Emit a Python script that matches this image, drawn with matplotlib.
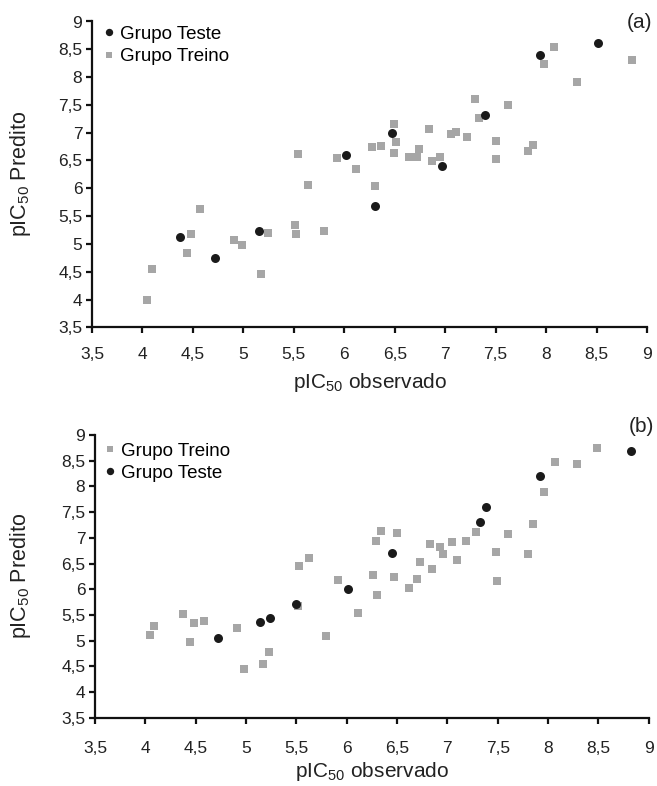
import matplotlib
matplotlib.use("Agg")
import matplotlib.pyplot as plt
from matplotlib.ticker import FuncFormatter
from matplotlib.lines import Line2D

plt.rcParams['font.family'] = ['Liberation Sans', 'DejaVu Sans']
plt.rcParams['mathtext.fontset'] = 'custom'
plt.rcParams['mathtext.rm'] = 'Liberation Sans'

# ---------------- Panel (a) data ----------------
a_test_obs = [4.37, 4.72, 5.15, 6.02, 6.30, 6.47, 6.97, 7.39, 7.94, 8.51]
a_test_pred = [5.13, 4.75, 5.23, 6.60, 5.69, 7.00, 6.41, 7.31, 8.40, 8.61]

a_train_obs = [4.05, 4.09, 4.44, 4.48, 4.57, 4.91, 4.99, 5.17, 5.24, 5.51,
               5.52, 5.54, 5.64, 5.80, 5.93, 6.12, 6.27, 6.30, 6.36, 6.49,
               6.49, 6.51, 6.64, 6.72, 6.74, 6.84, 6.87, 6.95, 7.06, 7.11,
               7.22, 7.30, 7.34, 7.50, 7.50, 7.62, 7.82, 7.87, 7.98, 8.08,
               8.31, 8.85]
a_train_pred = [3.99, 4.55, 4.84, 5.18, 5.62, 5.07, 4.98, 4.45, 5.20, 5.34,
                5.18, 6.62, 6.06, 5.24, 6.55, 6.34, 6.75, 6.04, 6.76, 7.16,
                6.63, 6.84, 6.57, 6.57, 6.70, 7.07, 6.49, 6.57, 6.98, 7.02,
                6.93, 7.60, 7.26, 6.85, 6.52, 7.50, 6.67, 6.78, 8.24, 8.55,
                7.92, 8.30]

# ---------------- Panel (b) data ----------------
b_test_obs = [4.72, 5.14, 5.24, 5.50, 6.01, 6.45, 7.32, 7.38, 7.92, 8.82]
b_test_pred = [5.06, 5.36, 5.43, 5.72, 6.01, 6.71, 7.31, 7.60, 8.21, 8.68]

b_train_obs = [4.05, 4.09, 4.37, 4.44, 4.48, 4.58, 4.91, 4.98, 5.17, 5.23,
               5.52, 5.53, 5.63, 5.79, 5.91, 6.11, 6.26, 6.29, 6.30, 6.34,
               6.47, 6.50, 6.62, 6.70, 6.73, 6.83, 6.85, 6.93, 6.96, 7.05,
               7.10, 7.19, 7.28, 7.48, 7.49, 7.60, 7.80, 7.85, 7.96, 8.07,
               8.29, 8.49]
b_train_pred = [5.10, 5.28, 5.51, 4.98, 5.34, 5.39, 5.24, 4.45, 4.54, 4.78,
                5.68, 6.46, 6.60, 5.08, 6.18, 5.53, 6.28, 6.94, 5.88, 7.13,
                6.24, 7.09, 6.03, 6.19, 6.53, 6.88, 6.39, 6.82, 6.68, 6.92,
                6.56, 6.94, 7.12, 6.73, 6.16, 7.07, 6.69, 7.26, 7.90, 8.48,
                8.43, 8.75]

tick_values = [3.5, 4, 4.5, 5, 5.5, 6, 6.5, 7, 7.5, 8, 8.5, 9]

GRAY = '#a6a6a6'
BLACK = '#1a1a1a'

W, H = 657, 786
fig = plt.figure(figsize=(W / 100, H / 100), dpi=100)


def fmt(v, pos=None):
    if abs(v - round(v)) < 1e-9:
        return str(int(round(v)))
    return ('%.1f' % v).replace('.', ',')


def style_axes(ax, left_px, width_px, xpad, xlabelpad):
    ax.set_xlim(tick_values[0], tick_values[-1])
    ax.set_ylim(tick_values[0], tick_values[-1])
    ax.set_xticks(tick_values)
    ax.set_yticks(tick_values)
    ax.xaxis.set_major_formatter(FuncFormatter(fmt))
    ax.yaxis.set_major_formatter(FuncFormatter(fmt))
    for s in ['top', 'right']:
        ax.spines[s].set_visible(False)
    for s in ['left', 'bottom']:
        ax.spines[s].set_linewidth(1.6)
        ax.spines[s].set_color('#111111')
    ax.tick_params(direction='out', length=4, width=1.6, labelsize=12.5,
                   colors='#111111', labelcolor='#222222')
    ax.tick_params(axis='x', pad=xpad)
    ax.tick_params(axis='y', pad=3)
    ax.set_xlabel(r'pIC$_{\mathrm{50}}$ observado', fontsize=15, color='#222222',
                  labelpad=xlabelpad)
    ax.set_ylabel(r'pIC$_{\mathrm{50}}$ Predito', fontsize=15.5, color='#222222')
    ax.yaxis.set_label_coords((33 - left_px) / width_px, 0.5)
    ax.set_facecolor('white')


def px_axes(left, top, right, bottom):
    return [left / W, 1 - bottom / H, (right - left) / W, (bottom - top) / H]


S_SQ = 30
S_CI = 42

# Panel (a)
axa = fig.add_axes(px_axes(92, 21.5, 647, 327.3))
axa.scatter(a_train_obs, a_train_pred, marker='s', s=S_SQ, color=GRAY, linewidths=0, zorder=3)
axa.scatter(a_test_obs, a_test_pred, marker='o', s=S_CI, color=BLACK, linewidths=0, zorder=4)
style_axes(axa, 92, 555, 10, 7)
ha_test = Line2D([], [], marker='o', linestyle='', color=BLACK, markersize=5.3, markeredgewidth=0)
ha_train = Line2D([], [], marker='s', linestyle='', color=GRAY, markersize=4.6, markeredgewidth=0)
axa.legend([ha_test, ha_train], ['Grupo Teste', 'Grupo Treino'], loc='upper left',
           bbox_to_anchor=(-0.005, 1.03), frameon=False, fontsize=13.5, handlelength=0.7,
           handletextpad=0.25, labelspacing=0.3, borderaxespad=0.3)
fig.text(652 / W, 1 - 22 / H, '(a)', fontsize=15, ha='right', va='center', color='#222222')

# Panel (b)
axb = fig.add_axes(px_axes(95, 435, 648.7, 717.7))
axb.scatter(b_train_obs, b_train_pred, marker='s', s=S_SQ, color=GRAY, linewidths=0, zorder=3)
axb.scatter(b_test_obs, b_test_pred, marker='o', s=S_CI, color=BLACK, linewidths=0, zorder=4)
style_axes(axb, 95, 553.7, 13, 3)
hb_train = Line2D([], [], marker='s', linestyle='', color=GRAY, markersize=4.6, markeredgewidth=0)
hb_test = Line2D([], [], marker='o', linestyle='', color=BLACK, markersize=5.3, markeredgewidth=0)
axb.legend([hb_train, hb_test], ['Grupo Treino', 'Grupo Teste'], loc='upper left',
           bbox_to_anchor=(-0.009, 1.02), frameon=False, fontsize=13.5, handlelength=0.7,
           handletextpad=0.25, labelspacing=0.28, borderaxespad=0.3)
fig.text(654 / W, 1 - 426 / H, '(b)', fontsize=15, ha='right', va='center', color='#222222')

fig.savefig('out.png', dpi=100, facecolor='white')
